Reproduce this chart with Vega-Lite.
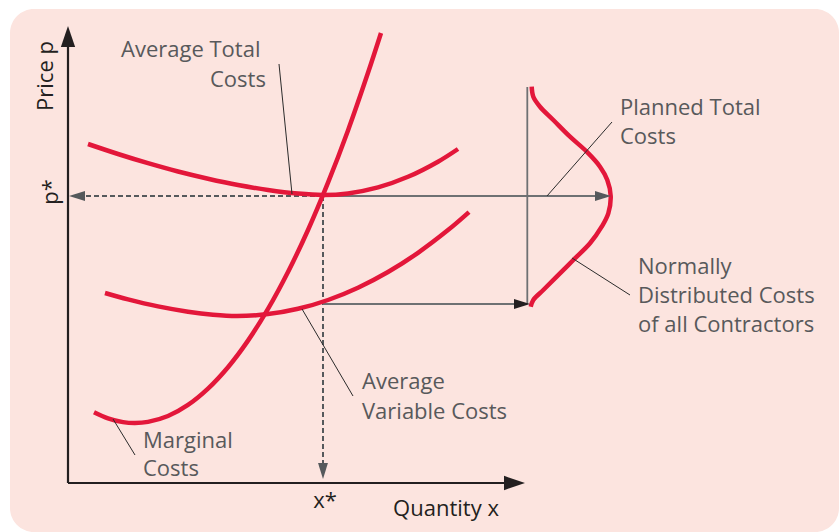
{
  "$schema": "https://vega.github.io/schema/vega-lite/v6.json",
  "width": 840,
  "height": 532,
  "autosize": {"type": "fit", "contains": "padding"},
  "padding": 0,
  "background": "#ffffff",
  "config": {"view": {"stroke": null}, "font": "Open Sans"},
  "datasets": {
    "panel": [{"x1": -58, "x2": 771, "y1": 474, "y2": -49}],
    "curves": [
      {"curve": "Marginal Costs", "i": 1, "q": 26, "p": 70.8},
      {"curve": "Marginal Costs", "i": 2, "q": 40, "p": 64.7},
      {"curve": "Marginal Costs", "i": 3, "q": 55, "p": 60.9},
      {"curve": "Marginal Costs", "i": 4, "q": 67, "p": 60},
      {"curve": "Marginal Costs", "i": 5, "q": 80, "p": 61.1},
      {"curve": "Marginal Costs", "i": 6, "q": 100, "p": 67},
      {"curve": "Marginal Costs", "i": 7, "q": 120, "p": 78.1},
      {"curve": "Marginal Costs", "i": 8, "q": 140, "p": 94.4},
      {"curve": "Marginal Costs", "i": 9, "q": 160, "p": 115.8},
      {"curve": "Marginal Costs", "i": 10, "q": 180, "p": 142.4},
      {"curve": "Marginal Costs", "i": 11, "q": 200, "p": 174.1},
      {"curve": "Marginal Costs", "i": 12, "q": 220, "p": 211},
      {"curve": "Marginal Costs", "i": 13, "q": 240, "p": 253},
      {"curve": "Marginal Costs", "i": 14, "q": 260, "p": 300.3},
      {"curve": "Marginal Costs", "i": 15, "q": 280, "p": 352.6},
      {"curve": "Marginal Costs", "i": 16, "q": 300, "p": 410.2},
      {"curve": "Marginal Costs", "i": 17, "q": 313, "p": 450},
      {"curve": "Average Total Costs", "i": 1, "q": 20, "p": 339},
      {"curve": "Average Total Costs", "i": 2, "q": 50, "p": 329},
      {"curve": "Average Total Costs", "i": 3, "q": 80, "p": 319.8},
      {"curve": "Average Total Costs", "i": 4, "q": 110, "p": 311.5},
      {"curve": "Average Total Costs", "i": 5, "q": 140, "p": 304.3},
      {"curve": "Average Total Costs", "i": 6, "q": 170, "p": 298},
      {"curve": "Average Total Costs", "i": 7, "q": 200, "p": 293},
      {"curve": "Average Total Costs", "i": 8, "q": 230, "p": 289.4},
      {"curve": "Average Total Costs", "i": 9, "q": 255, "p": 288},
      {"curve": "Average Total Costs", "i": 10, "q": 280, "p": 289.6},
      {"curve": "Average Total Costs", "i": 11, "q": 310, "p": 295.6},
      {"curve": "Average Total Costs", "i": 12, "q": 340, "p": 306.2},
      {"curve": "Average Total Costs", "i": 13, "q": 370, "p": 321.3},
      {"curve": "Average Total Costs", "i": 14, "q": 390, "p": 334},
      {"curve": "Average Variable Costs", "i": 1, "q": 37, "p": 190},
      {"curve": "Average Variable Costs", "i": 2, "q": 60, "p": 183.6},
      {"curve": "Average Variable Costs", "i": 3, "q": 90, "p": 176.6},
      {"curve": "Average Variable Costs", "i": 4, "q": 120, "p": 171.3},
      {"curve": "Average Variable Costs", "i": 5, "q": 145, "p": 168.3},
      {"curve": "Average Variable Costs", "i": 6, "q": 169, "p": 167},
      {"curve": "Average Variable Costs", "i": 7, "q": 200, "p": 168.9},
      {"curve": "Average Variable Costs", "i": 8, "q": 230, "p": 174.2},
      {"curve": "Average Variable Costs", "i": 9, "q": 260, "p": 183},
      {"curve": "Average Variable Costs", "i": 10, "q": 290, "p": 195.3},
      {"curve": "Average Variable Costs", "i": 11, "q": 320, "p": 211},
      {"curve": "Average Variable Costs", "i": 12, "q": 350, "p": 230.2},
      {"curve": "Average Variable Costs", "i": 13, "q": 380, "p": 252.9},
      {"curve": "Average Variable Costs", "i": 14, "q": 401, "p": 270.9},
      {"curve": "Normally Distributed Costs", "i": 1, "q": 463.7, "p": 396.3},
      {"curve": "Normally Distributed Costs", "i": 2, "q": 465.3, "p": 386.3},
      {"curve": "Normally Distributed Costs", "i": 3, "q": 472, "p": 376.3},
      {"curve": "Normally Distributed Costs", "i": 4, "q": 485.3, "p": 363},
      {"curve": "Normally Distributed Costs", "i": 5, "q": 502, "p": 346.3},
      {"curve": "Normally Distributed Costs", "i": 6, "q": 518.7, "p": 331.3},
      {"curve": "Normally Distributed Costs", "i": 7, "q": 532, "p": 316.3},
      {"curve": "Normally Distributed Costs", "i": 8, "q": 539.3, "p": 303},
      {"curve": "Normally Distributed Costs", "i": 9, "q": 542.7, "p": 287},
      {"curve": "Normally Distributed Costs", "i": 10, "q": 540.3, "p": 269.7},
      {"curve": "Normally Distributed Costs", "i": 11, "q": 533.7, "p": 256.3},
      {"curve": "Normally Distributed Costs", "i": 12, "q": 522, "p": 239.7},
      {"curve": "Normally Distributed Costs", "i": 13, "q": 505.3, "p": 223},
      {"curve": "Normally Distributed Costs", "i": 14, "q": 488.7, "p": 206.3},
      {"curve": "Normally Distributed Costs", "i": 15, "q": 475.3, "p": 193},
      {"curve": "Normally Distributed Costs", "i": 16, "q": 465.3, "p": 183},
      {"curve": "Normally Distributed Costs", "i": 17, "q": 462.7, "p": 176.3}
    ],
    "segments": [
      {"kind": "axis", "q": 0, "p": 0, "q2": 0, "p2": 444},
      {"kind": "axis", "q": 0, "p": 0, "q2": 444, "p2": 0},
      {"kind": "dashed", "q": 255, "p": 287, "q2": 10, "p2": 287},
      {"kind": "dashed", "q": 255, "p": 287, "q2": 255, "p2": 16},
      {"kind": "guide", "q": 255, "p": 287, "q2": 530, "p2": 287},
      {"kind": "guide", "q": 255, "p": 179, "q2": 450, "p2": 179},
      {"kind": "guide", "q": 459.3, "p": 396, "q2": 459.3, "p2": 179},
      {"kind": "leader", "q": 211, "p": 419, "q2": 224, "p2": 289},
      {"kind": "leader", "q": 544, "p": 361, "q2": 479, "p2": 287},
      {"kind": "leader", "q": 504, "p": 225, "q2": 562, "p2": 188},
      {"kind": "leader", "q": 234, "p": 174, "q2": 285, "p2": 87},
      {"kind": "leader", "q": 45, "p": 64, "q2": 67, "p2": 28}
    ],
    "arrows": [
      {"kind": "axis", "q": 0, "p": 457, "heading": 0},
      {"kind": "axis", "q": 457, "p": 0, "heading": 90},
      {"kind": "guide", "q": 1, "p": 287, "heading": 270},
      {"kind": "guide", "q": 255, "p": 4, "heading": 180},
      {"kind": "guide", "q": 543, "p": 287, "heading": 90},
      {"kind": "dark", "q": 462, "p": 179, "heading": 90}
    ],
    "labels": [
      {"kind": "rotated", "text": "Price p", "q": -15, "p": 407},
      {"kind": "rotated", "text": "p*", "q": -10, "p": 291},
      {"kind": "axis", "text": "x*", "q": 257, "p": -25},
      {"kind": "axis", "text": "Quantity x", "q": 378, "p": -33},
      {"kind": "note", "text": "Average Total", "q": 53, "p": 426},
      {"kind": "note", "text": "Costs", "q": 142, "p": 396},
      {"kind": "note", "text": "Planned Total", "q": 552, "p": 368},
      {"kind": "note", "text": "Costs", "q": 552, "p": 339},
      {"kind": "note", "text": "Normally", "q": 570, "p": 209},
      {"kind": "note", "text": "Distributed Costs", "q": 570, "p": 180},
      {"kind": "note", "text": "of all Contractors", "q": 570, "p": 151},
      {"kind": "note", "text": "Average", "q": 294, "p": 94},
      {"kind": "note", "text": "Variable Costs", "q": 294, "p": 64},
      {"kind": "note", "text": "Marginal", "q": 75, "p": 35},
      {"kind": "note", "text": "Costs", "q": 75, "p": 7}
    ]
  },
  "layer": [
    {
      "data": {"name": "panel"},
      "mark": {"type": "rect", "cornerRadius": 24, "color": "#fce4df"},
      "encoding": {
        "x": {"field": "x1", "type": "quantitative", "scale": {"domain": [-68, 772], "nice": false, "zero": false}, "axis": null},
        "x2": {"field": "x2"},
        "y": {"field": "y1", "type": "quantitative", "scale": {"domain": [-49, 483], "nice": false, "zero": false}, "axis": null},
        "y2": {"field": "y2"}
      }
    },
    {
      "data": {"name": "segments"},
      "transform": [{"filter": "datum.kind === 'dashed'"}],
      "mark": {"type": "rule", "color": "#55595c", "strokeWidth": 2, "strokeDash": [5, 3]},
      "encoding": {
        "x": {"field": "q", "type": "quantitative", "scale": {"domain": [-68, 772], "nice": false, "zero": false}, "axis": null},
        "y": {"field": "p", "type": "quantitative", "scale": {"domain": [-49, 483], "nice": false, "zero": false}, "axis": null},
        "x2": {"field": "q2"},
        "y2": {"field": "p2"}
      }
    },
    {
      "data": {"name": "segments"},
      "transform": [{"filter": "datum.kind === 'guide'"}],
      "mark": {"type": "rule", "color": "#6e7173", "strokeWidth": 1.8},
      "encoding": {
        "x": {"field": "q", "type": "quantitative", "scale": {"domain": [-68, 772], "nice": false, "zero": false}, "axis": null},
        "y": {"field": "p", "type": "quantitative", "scale": {"domain": [-49, 483], "nice": false, "zero": false}, "axis": null},
        "x2": {"field": "q2"},
        "y2": {"field": "p2"}
      }
    },
    {
      "data": {"name": "curves"},
      "mark": {"type": "line", "color": "#e3173a", "strokeWidth": 4.5, "interpolate": "catmull-rom"},
      "encoding": {
        "x": {"field": "q", "type": "quantitative", "scale": {"domain": [-68, 772], "nice": false, "zero": false}, "axis": null},
        "y": {"field": "p", "type": "quantitative", "scale": {"domain": [-49, 483], "nice": false, "zero": false}, "axis": null},
        "detail": {"field": "curve", "type": "nominal"},
        "order": {"field": "i", "type": "quantitative"}
      }
    },
    {
      "data": {"name": "segments"},
      "transform": [{"filter": "datum.kind === 'leader'"}],
      "mark": {"type": "rule", "color": "#2b2b2b", "strokeWidth": 1},
      "encoding": {
        "x": {"field": "q", "type": "quantitative", "scale": {"domain": [-68, 772], "nice": false, "zero": false}, "axis": null},
        "y": {"field": "p", "type": "quantitative", "scale": {"domain": [-49, 483], "nice": false, "zero": false}, "axis": null},
        "x2": {"field": "q2"},
        "y2": {"field": "p2"}
      }
    },
    {
      "data": {"name": "segments"},
      "transform": [{"filter": "datum.kind === 'axis'"}],
      "mark": {"type": "rule", "color": "#231f20", "strokeWidth": 2.2},
      "encoding": {
        "x": {"field": "q", "type": "quantitative", "scale": {"domain": [-68, 772], "nice": false, "zero": false}, "axis": null},
        "y": {"field": "p", "type": "quantitative", "scale": {"domain": [-49, 483], "nice": false, "zero": false}, "axis": null},
        "x2": {"field": "q2"},
        "y2": {"field": "p2"}
      }
    },
    {
      "data": {"name": "arrows"},
      "transform": [{"filter": "datum.kind === 'axis'"}],
      "mark": {"type": "point", "shape": "M0,0L0.68,2L-0.68,2Z", "filled": true, "opacity": 1, "color": "#231f20", "size": 441, "strokeWidth": 0},
      "encoding": {
        "x": {"field": "q", "type": "quantitative", "scale": {"domain": [-68, 772], "nice": false, "zero": false}, "axis": null},
        "y": {"field": "p", "type": "quantitative", "scale": {"domain": [-49, 483], "nice": false, "zero": false}, "axis": null},
        "angle": {"field": "heading", "type": "quantitative", "scale": null}
      }
    },
    {
      "data": {"name": "arrows"},
      "transform": [{"filter": "datum.kind === 'guide'"}],
      "mark": {"type": "point", "shape": "M0,0L0.62,2L-0.62,2Z", "filled": true, "opacity": 1, "color": "#55595c", "size": 256, "strokeWidth": 0},
      "encoding": {
        "x": {"field": "q", "type": "quantitative", "scale": {"domain": [-68, 772], "nice": false, "zero": false}, "axis": null},
        "y": {"field": "p", "type": "quantitative", "scale": {"domain": [-49, 483], "nice": false, "zero": false}, "axis": null},
        "angle": {"field": "heading", "type": "quantitative", "scale": null}
      }
    },
    {
      "data": {"name": "arrows"},
      "transform": [{"filter": "datum.kind === 'dark'"}],
      "mark": {"type": "point", "shape": "M0,0L0.62,2L-0.62,2Z", "filled": true, "opacity": 1, "color": "#231f20", "size": 256, "strokeWidth": 0},
      "encoding": {
        "x": {"field": "q", "type": "quantitative", "scale": {"domain": [-68, 772], "nice": false, "zero": false}, "axis": null},
        "y": {"field": "p", "type": "quantitative", "scale": {"domain": [-49, 483], "nice": false, "zero": false}, "axis": null},
        "angle": {"field": "heading", "type": "quantitative", "scale": null}
      }
    },
    {
      "data": {"name": "labels"},
      "transform": [{"filter": "datum.kind === 'rotated'"}],
      "mark": {"type": "text", "angle": 270, "align": "center", "baseline": "alphabetic", "fontSize": 22, "color": "#231f20", "font": "Open Sans"},
      "encoding": {
        "x": {"field": "q", "type": "quantitative", "scale": {"domain": [-68, 772], "nice": false, "zero": false}, "axis": null},
        "y": {"field": "p", "type": "quantitative", "scale": {"domain": [-49, 483], "nice": false, "zero": false}, "axis": null},
        "text": {"field": "text"}
      }
    },
    {
      "data": {"name": "labels"},
      "transform": [{"filter": "datum.kind === 'axis'"}],
      "mark": {"type": "text", "align": "center", "baseline": "alphabetic", "fontSize": 22, "color": "#231f20", "font": "Open Sans"},
      "encoding": {
        "x": {"field": "q", "type": "quantitative", "scale": {"domain": [-68, 772], "nice": false, "zero": false}, "axis": null},
        "y": {"field": "p", "type": "quantitative", "scale": {"domain": [-49, 483], "nice": false, "zero": false}, "axis": null},
        "text": {"field": "text"}
      }
    },
    {
      "data": {"name": "labels"},
      "transform": [{"filter": "datum.kind === 'note'"}],
      "mark": {"type": "text", "align": "left", "baseline": "alphabetic", "fontSize": 22, "color": "#58595b", "font": "Open Sans"},
      "encoding": {
        "x": {"field": "q", "type": "quantitative", "scale": {"domain": [-68, 772], "nice": false, "zero": false}, "axis": null},
        "y": {"field": "p", "type": "quantitative", "scale": {"domain": [-49, 483], "nice": false, "zero": false}, "axis": null},
        "text": {"field": "text"}
      }
    }
  ]
}
